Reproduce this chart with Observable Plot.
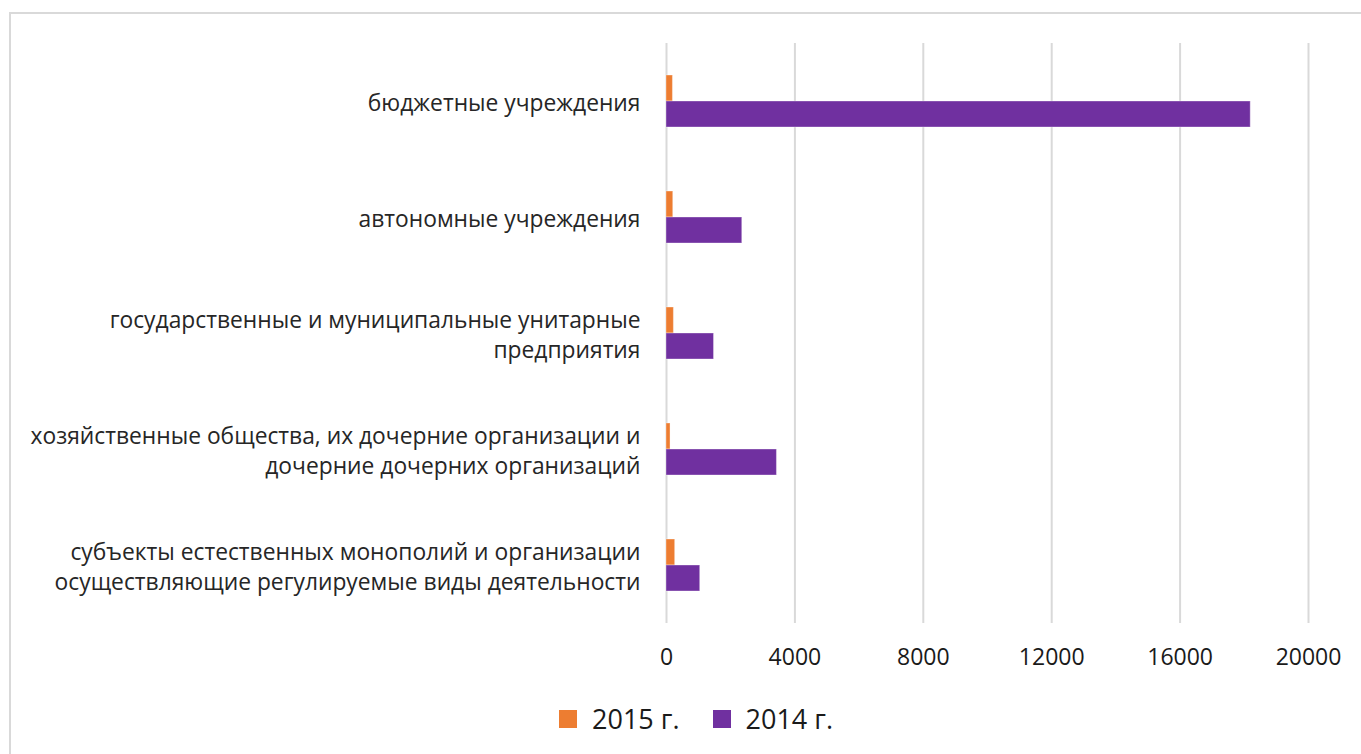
<!DOCTYPE html>
<html>
<head>
<meta charset="utf-8">
<script src="https://cdn.jsdelivr.net/npm/d3@7"></script>
<script src="https://cdn.jsdelivr.net/npm/@observablehq/plot@0.6"></script>
<style>
  html, body { margin: 0; padding: 0; background: #fff; overflow: hidden; }
  body { width: 1361px; height: 754px; position: relative; font-family: "Open Sans", sans-serif; }
  #frame { position: absolute; left: 9px; top: 12px; width: 1400px; height: 800px; border: 2px solid #d9d9d9; box-sizing: border-box; }
  #chart { position: absolute; left: 0; top: 0; }
  #legend { position: absolute; left: 559px; top: 700px; display: flex; align-items: center; font-size: 27px; color: #1a1a1a; }
  #legend .sw { width: 18px; height: 18px; display: inline-block; margin-right: 15px; }
  #legend .item { display: flex; align-items: center; margin-right: 33px; }
</style>
</head>
<body>
<div id="frame"></div>
<div id="chart"></div>
<div id="legend"></div>
<script>
const categories = [
  "бюджетные учреждения",
  "автономные учреждения",
  "государственные и муниципальные унитарные\nпредприятия",
  "хозяйственные общества, их дочерние организации и\nдочерние дочерних организаций",
  "субъекты естественных монополий и организации\nосуществляющие регулируемые виды деятельности"
];
const series = ["2015 г.", "2014 г."];
const values2015 = [200, 210, 230, 125, 270];
const values2014 = [18200, 2360, 1480, 3440, 1050];
const xTicks = [0, 4000, 8000, 12000, 16000, 20000];
const colors = ["#ED7D31", "#7030A0"];

const data = [];
categories.forEach((c, i) => {
  data.push({category: c, year: series[0], value: values2015[i]});
  data.push({category: c, year: series[1], value: values2014[i]});
});

const chart = Plot.plot({
  width: 1361,
  height: 674,
  marginLeft: 666,
  marginRight: 53,
  marginTop: 42,
  marginBottom: 50,
  style: {fontFamily: "Open Sans, sans-serif", background: "transparent"},
  x: {domain: [0, 20000], ticks: xTicks, label: null},
  y: {domain: series, paddingInner: 0, paddingOuter: 1.156, axis: null},
  fy: {domain: categories, padding: 0, axis: null},
  color: {domain: series, range: colors},
  marks: [
    Plot.gridX(xTicks, {stroke: "#d9d9d9", strokeOpacity: 1, strokeWidth: 2}),
    Plot.axisX(xTicks, {tickSize: 0, tickPadding: 25, fontSize: 23, fill: "#1a1a1a", label: null, tickFormat: d => String(d), facetAnchor: "bottom"}),
    Plot.barX(data, {fy: "category", y: "year", x: "value", fill: "year", stroke: "#ffffff", strokeOpacity: 0.35, strokeWidth: 1}),
    Plot.text(categories, {fy: d => d, text: d => d, frameAnchor: "left", dx: -26, textAnchor: "end", fontSize: 22.8, lineHeight: 1.31, fill: "#262626"})
  ]
});
document.getElementById("chart").appendChild(chart);

const legend = document.getElementById("legend");
series.forEach((s, i) => {
  const item = document.createElement("div");
  item.className = "item";
  const sw = document.createElement("span");
  sw.className = "sw";
  sw.style.background = colors[i];
  const t = document.createElement("span");
  t.textContent = s;
  item.appendChild(sw);
  item.appendChild(t);
  legend.appendChild(item);
});
</script>
</body>
</html>
